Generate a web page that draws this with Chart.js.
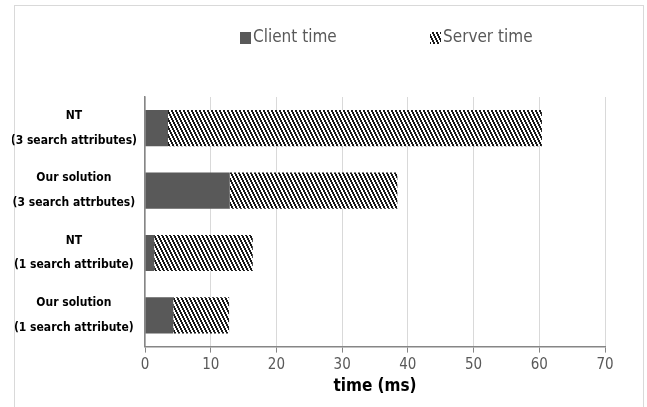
<!DOCTYPE html>
<html lang="en">
<head>
  <meta charset="utf-8">
  <title>Client and server time</title>
  <script src="https://cdn.jsdelivr.net/npm/chart.js@4.4.1/dist/chart.umd.min.js"></script>
  <style>
    html, body { margin: 0; padding: 0; background: #fff; }
    #wrap { width: 647px; height: 407px; }
  </style>
</head>
<body>
  <div id="wrap"><canvas id="mychart" width="647" height="407"></canvas></div>

  <script>
    // data
    var categories = [
      ['NT', '(3 search attributes)'],
      ['Our solution', '(3 search attrbutes)'],
      ['NT', '(1 search attribute)'],
      ['Our solution', '(1 search attribute)']
    ];
    var seriesNames = ['Client time', 'Server time'];
    var clientTime = [3.5, 12.9, 1.4, 4.3];
    var serverTime = [56.9, 25.5, 15.0, 8.5];
    var xTicks = [0, 10, 20, 30, 40, 50, 60, 70];

    var fontName = '"Liberation Sans Narrow", "DejaVu Sans Condensed", sans-serif';

    // black / white downward diagonal hatch
    function makeHatch() {
      var c = document.createElement('canvas');
      c.width = 4; c.height = 8;
      var g = c.getContext('2d');
      g.fillStyle = '#fff';
      g.fillRect(0, 0, 4, 8);
      g.fillStyle = '#1a1a1a';
      for (var y = 0; y < 8; y++) {
        var x0 = Math.floor(y / 2);
        for (var k = 0; k < 2; k++) {
          g.fillRect((x0 + k) % 4, y, 1, 1);
        }
      }
      return g.createPattern(c, 'repeat');
    }
    var hatch = makeHatch();

    // light frame around the whole chart
    var framePlugin = {
      id: 'frame',
      beforeDraw: function (chart) {
        var ctx = chart.ctx;
        ctx.save();
        ctx.strokeStyle = '#d9d9d9';
        ctx.lineWidth = 1;
        ctx.strokeRect(14.5, 5.5, 629, 420);
        ctx.restore();
      }
    };

    // legend drawn by hand so the two items sit far apart
    var legendPlugin = {
      id: 'spreadLegend',
      afterDraw: function (chart) {
        var ctx = chart.ctx;
        var mid = (chart.chartArea.left + chart.chartArea.right) / 2;
        var pos = [mid - 135, mid + 55];
        ctx.save();
        ctx.font = '17px ' + fontName;
        ctx.textBaseline = 'middle';
        chart.data.datasets.forEach(function (ds, i) {
          var x = pos[i], y = 38;
          ctx.fillStyle = ds.backgroundColor;
          ctx.fillRect(x, y - 6, 11, 12);
          ctx.fillStyle = '#595959';
          ctx.fillText(ds.label, x + 13, y);
        });
        ctx.restore();
      }
    };

    var ctx = document.getElementById('mychart').getContext('2d');
    var chart = new Chart(ctx, {
      type: 'bar',
      data: {
        labels: categories,
        datasets: [
          {
            label: seriesNames[0],
            data: clientTime,
            backgroundColor: '#595959',
            borderWidth: 0,
            barPercentage: 0.58,
            categoryPercentage: 1
          },
          {
            label: seriesNames[1],
            data: serverTime,
            backgroundColor: hatch,
            borderWidth: 0,
            barPercentage: 0.58,
            categoryPercentage: 1
          }
        ]
      },
      plugins: [framePlugin, legendPlugin],
      options: {
        indexAxis: 'y',
        responsive: false,
        animation: false,
        layout: { padding: { left: 12, right: 42, top: 97, bottom: 10 } },
        plugins: {
          legend: { display: false },
          tooltip: { enabled: false }
        },
        scales: {
          x: {
            stacked: true,
            min: 0,
            max: 70,
            afterBuildTicks: function (scale) {
              scale.ticks = xTicks.map(function (v) { return { value: v }; });
            },
            grid: {
              color: '#d9d9d9',
              tickColor: '#868686',
              tickLength: 6,
              drawOnChartArea: true
            },
            border: { color: '#868686', width: 1.5 },
            ticks: {
              color: '#595959',
              font: { family: fontName, size: 15 },
              padding: 4
            },
            title: {
              display: true,
              text: 'time (ms)',
              color: '#000',
              font: { family: fontName, size: 17, weight: 'bold' },
              padding: { top: -2, bottom: 0 }
            }
          },
          y: {
            stacked: true,
            afterFit: function (scale) { scale.width = 133; },
            grid: { display: false, drawTicks: false },
            border: { color: '#868686', width: 1.5 },
            ticks: {
              crossAlign: 'center',
              color: '#000',
              padding: 8,
              font: { family: fontName, size: 12, weight: 'bold', lineHeight: 2.05 }
            }
          }
        }
      }
    });
  </script>
</body>
</html>
